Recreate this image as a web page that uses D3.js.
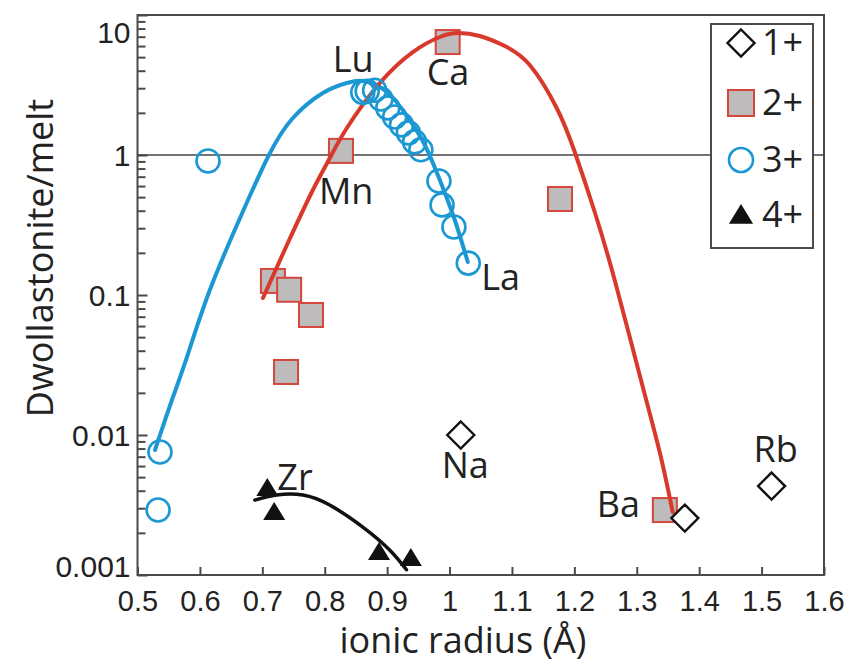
<!DOCTYPE html>
<html>
<head>
<meta charset="utf-8">
<script src="https://cdn.jsdelivr.net/npm/d3@7"></script>
<style>
  html, body { margin: 0; padding: 0; background: #fff; }
  svg { display: block; font-family: "Open Sans", "Noto Sans", sans-serif; }
</style>
</head>
<body>
<svg id="chart" width="849" height="664"></svg>
<script>
// ---------------- data ----------------
// 1+ cations (open diamonds)
const ions1 = [
  { name: "Na", r: 1.018, D: 0.0100 },
  { name: "Ba1", r: 1.377, D: 0.00255 },
  { name: "Rb", r: 1.516, D: 0.00432 }
];
// 2+ cations (grey squares)
const ions2 = [
  { name: "Ca", r: 0.997, D: 6.41 },
  { name: "Mn", r: 0.826, D: 1.07 },
  { name: "", r: 1.177, D: 0.485 },
  { name: "", r: 0.717, D: 0.126 },
  { name: "", r: 0.743, D: 0.109 },
  { name: "", r: 0.778, D: 0.072 },
  { name: "", r: 0.738, D: 0.0282 },
  { name: "Ba", r: 1.345, D: 0.00291 }
];
// 3+ cations (open circles)
const ions3 = [
  { name: "", r: 0.536, D: 0.00756 },
  { name: "", r: 0.533, D: 0.00291 },
  { name: "", r: 0.613, D: 0.906 },
  { name: "Lu", r: 0.861, D: 2.80 },
  { name: "Yb", r: 0.868, D: 2.85 },
  { name: "Tm", r: 0.880, D: 2.90 },
  { name: "Er", r: 0.890, D: 2.51 },
  { name: "Ho", r: 0.901, D: 2.17 },
  { name: "Dy", r: 0.912, D: 1.87 },
  { name: "Tb", r: 0.923, D: 1.64 },
  { name: "Gd", r: 0.934, D: 1.44 },
  { name: "Eu", r: 0.944, D: 1.24 },
  { name: "Sm", r: 0.954, D: 1.09 },
  { name: "Nd", r: 0.983, D: 0.652 },
  { name: "Pr", r: 0.988, D: 0.44 },
  { name: "Ce", r: 1.007, D: 0.306 },
  { name: "La", r: 1.030, D: 0.169 }
];
// 4+ cations (filled triangles)
const ions4 = [
  { name: "Zr", r: 0.708, D: 0.00418 },
  { name: "", r: 0.719, D: 0.00282 },
  { name: "", r: 0.887, D: 0.00146 },
  { name: "", r: 0.938, D: 0.00132 }
];
// fitted lattice-strain curves
const curve3 = [
  [0.528, 0.00781], [0.5552, 0.01778], [0.5777, 0.03434], [0.6129, 0.100],
  [0.6593, 0.3162], [0.709, 0.9676], [0.749, 1.838], [0.797, 2.773],
  [0.8355, 3.268], [0.8611, 3.379], [0.8883, 3.06], [0.9123, 2.471],
  [0.9363, 1.778], [0.9604, 1.179], [0.9844, 0.6629], [1.0084, 0.3434], [1.0292, 0.172]
];
const curve2 = [
  [0.7010, 0.0952], [0.7394, 0.2276], [0.7810, 0.5623], [0.8082, 0.9519],
  [0.8355, 1.559], [0.8883, 3.268], [0.9412, 5.441], [0.9844, 6.965],
  [1.0132, 7.436], [1.0484, 7.079], [1.0885, 6.005], [1.1285, 4.394],
  [1.1717, 2.166], [1.2006, 1.05], [1.2326, 0.3916], [1.2646, 0.128],
  [1.3046, 0.0268], [1.3367, 0.00756], [1.3575, 0.00282]
];
const curve4 = [
  [0.688, 0.00343], [0.723, 0.00373], [0.765, 0.00373], [0.808, 0.00316],
  [0.861, 0.0022], [0.904, 0.00151], [0.931, 0.00109]
];
// element labels: attached to a data point with a pixel offset
const labels = [
  { text: "Lu", r: 0.861, D: 2.80, dx: -30, dy: -20 },
  { text: "Ca", r: 0.997, D: 6.41, dx: -21, dy: 43 },
  { text: "Mn", r: 0.826, D: 1.07, dx: -22, dy: 53 },
  { text: "La", r: 1.030, D: 0.169, dx: 13, dy: 27 },
  { text: "Na", r: 1.018, D: 0.0100, dx: -19, dy: 43 },
  { text: "Ba", r: 1.345, D: 0.00291, dx: -68, dy: 7 },
  { text: "Rb", r: 1.516, D: 0.00432, dx: -18, dy: -24 },
  { text: "Zr", r: 0.708, D: 0.00418, dx: 10, dy: 2 }
];
const xTicks = [0.5, 0.6, 0.7, 0.8, 0.9, 1.0, 1.1, 1.2, 1.3, 1.4, 1.5, 1.6];
const yMajor = [0.001, 0.01, 0.1, 1, 10];
const yMajorLabels = ["0.001", "0.01", "0.1", "1", "10"];
const legendItems = ["1+", "2+", "3+", "4+"];

// ---------------- chart ----------------
const svg = d3.select("#chart");
const pL = 137.5, pR = 824, pT = 15, pB = 575;
const x = d3.scaleLinear().domain([0.5, 1.6]).range([pL, pR]);
const y = d3.scaleLog().domain([0.001, 10]).range([pB, pT]);

const BLUE = "#1b98d3", RED = "#d9392b", SQFILL = "#bdbbbb", SQSTROKE = "#d4473d", AX = "#4a4a4a";

const yAll = [];
yMajor.forEach((m, i) => {
  yAll.push(m);
  if (i < yMajor.length - 1) for (let k = 2; k <= 9; k++) yAll.push(+(m * k).toPrecision(3));
});

// y axis
const yAxis = d3.axisLeft(y).tickValues(yAll).tickSizeInner(-9).tickSizeOuter(0).tickPadding(7)
  .tickFormat(d => { const i = yMajor.indexOf(d); return i >= 0 ? yMajorLabels[i] : ""; });
const gy = svg.append("g").attr("transform", `translate(${pL},0)`).call(yAxis);
gy.select(".domain").remove();
gy.selectAll(".tick line").attr("stroke", AX).attr("stroke-width", 2)
  .attr("x2", d => yMajor.includes(d) ? 10 : 8);
gy.selectAll(".tick text").attr("font-size", 30).attr("fill", "#222")
  .attr("dy", d => d === 10 ? "0.9em" : d === 0.001 ? "0.05em" : "0.34em");

// x axis
const xAxis = d3.axisBottom(x).tickValues(xTicks).tickSizeInner(-8).tickSizeOuter(0).tickPadding(15)
  .tickFormat(d => String(+d.toFixed(1)));
const gx = svg.append("g").attr("transform", `translate(0,${pB})`).call(xAxis);
gx.select(".domain").remove();
gx.selectAll(".tick line").attr("stroke", AX).attr("stroke-width", 2);
gx.selectAll(".tick text").attr("font-size", 29).attr("fill", "#222");

// frame
svg.append("rect").attr("x", pL).attr("y", pT).attr("width", pR - pL).attr("height", pB - pT)
  .attr("fill", "none").attr("stroke", AX).attr("stroke-width", 2);

// reference line at D = 1
svg.append("line").attr("x1", pL).attr("x2", pR).attr("y1", y(1)).attr("y2", y(1))
  .attr("stroke", "#444").attr("stroke-width", 1.6);

// axis titles
svg.append("text").attr("transform", `translate(53,258) rotate(-90)`).attr("text-anchor", "middle")
  .attr("font-size", 36).attr("fill", "#222").text("Dwollastonite/melt");
svg.append("text").attr("x", 463).attr("y", 653).attr("text-anchor", "middle")
  .attr("font-size", 36).attr("fill", "#222").text("ionic radius (Å)");

const line = d3.line().x(d => x(d[0])).y(d => y(d[1])).curve(d3.curveNatural);

// squares (under red curve)
const SQ = 24;
svg.append("g").selectAll("rect").data(ions2).join("rect")
  .attr("x", d => x(d.r) - SQ / 2).attr("y", d => y(d.D) - SQ / 2)
  .attr("width", SQ).attr("height", SQ)
  .attr("fill", SQFILL).attr("stroke", SQSTROKE).attr("stroke-width", 2);

// curves
svg.append("path").datum(curve3).attr("d", line).attr("fill", "none").attr("stroke", BLUE).attr("stroke-width", 4).attr("stroke-linecap", "round");
svg.append("path").datum(curve2).attr("d", line).attr("fill", "none").attr("stroke", RED).attr("stroke-width", 4).attr("stroke-linecap", "round");
svg.append("path").datum(curve4).attr("d", line).attr("fill", "none").attr("stroke", "#111").attr("stroke-width", 3.5).attr("stroke-linecap", "round");

// circles
svg.append("g").selectAll("circle").data(ions3).join("circle")
  .attr("cx", d => x(d.r)).attr("cy", d => y(d.D)).attr("r", 11.5)
  .attr("fill", "none").attr("stroke", BLUE).attr("stroke-width", 2.6);

// diamonds
const diamond = (cx, cy, s) => `M${cx},${cy - s}L${cx + s},${cy}L${cx},${cy + s}L${cx - s},${cy}Z`;
svg.append("g").selectAll("path").data(ions1).join("path")
  .attr("d", d => diamond(x(d.r), y(d.D), 13.5))
  .attr("fill", "#fff").attr("stroke", "#111").attr("stroke-width", 2.4);

// triangles
const tri = (cx, cy, s) => `M${cx},${cy - s}L${cx + s * 1.1},${cy + s * 0.8}L${cx - s * 1.1},${cy + s * 0.8}Z`;
svg.append("g").selectAll("path").data(ions4).join("path")
  .attr("d", d => tri(x(d.r), y(d.D), 10))
  .attr("fill", "#111");

// labels
svg.append("g").selectAll("text").data(labels).join("text")
  .attr("x", d => x(d.r) + d.dx).attr("y", d => y(d.D) + d.dy)
  .attr("font-size", 36).attr("fill", "#222").text(d => d.text);

// legend
const lg = svg.append("g");
lg.append("rect").attr("x", 711).attr("y", 24).attr("width", 102).attr("height", 224)
  .attr("fill", "#fff").attr("stroke", AX).attr("stroke-width", 2);
const lgY = [43, 103, 160, 215];
legendItems.forEach((t, i) => {
  const cy = lgY[i], cx = 741;
  if (i === 0) lg.append("path").attr("d", diamond(cx, cy, 13.5)).attr("fill", "#fff").attr("stroke", "#111").attr("stroke-width", 2.4);
  if (i === 1) lg.append("rect").attr("x", cx - 13).attr("y", cy - 13).attr("width", 26).attr("height", 26)
    .attr("fill", SQFILL).attr("stroke", SQSTROKE).attr("stroke-width", 2);
  if (i === 2) lg.append("circle").attr("cx", cx).attr("cy", cy).attr("r", 12).attr("fill", "none").attr("stroke", BLUE).attr("stroke-width", 2.6);
  if (i === 3) lg.append("path").attr("d", tri(cx, cy, 11)).attr("fill", "#111");
  lg.append("text").attr("x", 762).attr("y", cy + 12).attr("font-size", 36).attr("fill", "#222").text(t);
});
</script>
</body>
</html>
